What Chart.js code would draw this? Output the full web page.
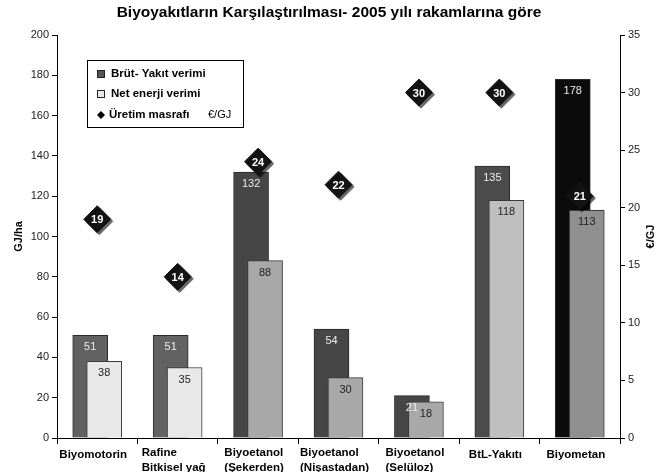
<!DOCTYPE html>
<html lang="tr">
<head>
    <meta charset="UTF-8">
    <title>Biyoyakıtların Karşılaştırılması</title>
    <script src="https://cdn.jsdelivr.net/npm/chart.js"></script>
    <style>
        html, body {
            margin: 0;
            padding: 0;
            background: #fff;
            overflow: hidden;
        }

        /* a bit taller than the window so the 2nd label line is cut like the original */
        #wrap {
            width: 658px;
            height: 482px;
        }
    </style>
</head>
<body>
    <div id="wrap"><canvas id="myChart"></canvas></div>

    <script>
        const categories = [
            ['Biyomotorin'],
            ['Rafine', 'Bitkisel yağ'],
            ['Biyoetanol', '(Şekerden)'],
            ['Biyoetanol', '(Nişastadan)'],
            ['Biyoetanol', '(Selüloz)'],
            ['BtL-Yakıtı'],
            ['Biyometan']
        ];
        const brutYakitVerimi = [51, 51, 132, 54, 21, 135, 178];   // GJ/ha
        const netEnerjiVerimi = [38, 35, 88, 30, 18, 118, 113];    // GJ/ha
        const uretimMasrafi = [19, 14, 24, 22, 30, 30, 21];        // €/GJ
        const gjTicks = [0, 20, 40, 60, 80, 100, 120, 140, 160, 180, 200];
        const euroTicks = [0, 5, 10, 15, 20, 25, 30, 35];

        const darkColors = ['#626262', '#626262', '#464646', '#464646', '#464646', '#4b4b4b', '#0b0b0b'];
        const lightColors = ['#e8e8e8', '#e8e8e8', '#a8a8a8', '#a8a8a8', '#a8a8a8', '#bfbfbf', '#8f8f8f'];

        const FONT = '"Liberation Sans", Arial, sans-serif';

        // bars overlap: move the first series left, the second right
        const shiftBars = {
            id: 'shiftBars',
            afterDatasetsUpdate(chart) {
                [[0, -7], [1, 7]].forEach(([idx, dx]) => {
                    chart.getDatasetMeta(idx).data.forEach(bar => { bar.x += dx; });
                });
            }
        };

        const diamondShadow = {
            id: 'diamondShadow',
            beforeDatasetDraw(chart, args) {
                if (args.index !== 2) return;
                const c = chart.ctx;
                c.save();
                c.shadowColor = 'rgba(0,0,0,0.6)';
                c.shadowOffsetX = 2;
                c.shadowOffsetY = 2;
                c.shadowBlur = 1;
            },
            afterDatasetDraw(chart, args) {
                if (args.index === 2) chart.ctx.restore();
            }
        };

        const valueLabels = {
            id: 'valueLabels',
            afterDatasetsDraw(chart) {
                const c = chart.ctx;
                const ds = chart.data.datasets;
                c.save();
                c.textAlign = 'center';
                c.textBaseline = 'middle';
                c.font = '11px ' + FONT;
                chart.getDatasetMeta(0).data.forEach((bar, i) => {
                    c.fillStyle = '#ececec';
                    c.fillText(ds[0].data[i], bar.x, bar.y + 12);
                });
                chart.getDatasetMeta(1).data.forEach((bar, i) => {
                    c.fillStyle = '#222';
                    c.fillText(ds[1].data[i], bar.x, bar.y + 12);
                });
                c.font = 'bold 11px ' + FONT;
                c.fillStyle = '#fff';
                chart.getDatasetMeta(2).data.forEach((pt, i) => {
                    c.fillText(ds[2].data[i], pt.x, pt.y + 1);
                });
                c.restore();
            }
        };

        // category names: lines left aligned, block roughly centred under the group
        const xLabels = {
            id: 'xLabels',
            afterDraw(chart) {
                const c = chart.ctx;
                const xs = chart.scales.x;
                c.save();
                c.font = 'bold 11.5px ' + FONT;
                c.fillStyle = '#000';
                c.textAlign = 'left';
                c.textBaseline = 'middle';
                chart.data.labels.forEach((lines, i) => {
                    const w = Math.max(...lines.map(t => c.measureText(t).width));
                    const x0 = xs.getPixelForValue(i) - w / 2 - 4;
                    const y0 = lines.length > 1 ? 453 : 455;
                    lines.forEach((t, k) => c.fillText(t, x0, y0 + k * 15));
                });
                c.restore();
            }
        };

        // legend box inside the plot + axis titles (right one reads bottom-up)
        const extras = {
            id: 'extras',
            afterDraw(chart) {
                const c = chart.ctx;
                const area = chart.chartArea;
                const midY = (area.top + area.bottom) / 2;
                c.save();

                c.font = 'bold 11px ' + FONT;
                c.fillStyle = '#000';
                c.textAlign = 'center';
                c.textBaseline = 'middle';
                [[19, 'GJ/ha'], [651, '€/GJ']].forEach(([x, txt]) => {
                    c.save();
                    c.translate(x, midY);
                    c.rotate(-Math.PI / 2);
                    c.fillText(txt, 0, 0);
                    c.restore();
                });

                // legend
                c.fillStyle = '#fff';
                c.fillRect(87, 60, 156, 67);
                c.strokeStyle = '#000';
                c.lineWidth = 1;
                c.strokeRect(87.5, 60.5, 156, 67);

                c.textAlign = 'left';
                c.font = 'bold 11.5px ' + FONT;
                const ds = chart.data.datasets;
                [[74, '#555555'], [94, '#e8e8e8']].forEach(([y, col], i) => {
                    c.fillStyle = col;
                    c.fillRect(97.5, y - 3.5, 7, 7);
                    c.strokeStyle = '#222';
                    c.strokeRect(97.5, y - 3.5, 7, 7);
                    c.fillStyle = '#000';
                    c.fillText(ds[i].label, 111, y);
                });
                c.fillStyle = '#000';
                c.beginPath();
                c.moveTo(101, 111);
                c.lineTo(105, 115);
                c.lineTo(101, 119);
                c.lineTo(97, 115);
                c.closePath();
                c.fill();
                c.fillText(ds[2].label, 109, 115);
                c.font = '11px ' + FONT;
                c.fillText('€/GJ', 208, 115);

                c.restore();
            }
        };

        const ctx = document.getElementById('myChart').getContext('2d');

        new Chart(ctx, {
            data: {
                labels: categories,
                datasets: [
                    {
                        type: 'bar',
                        label: 'Brüt- Yakıt verimi',
                        data: brutYakitVerimi,
                        backgroundColor: darkColors,
                        borderColor: '#2a2a2a',
                        borderWidth: 1,
                        barThickness: 35,
                        grouped: false,
                        yAxisID: 'y',
                        order: 2
                    },
                    {
                        type: 'bar',
                        label: 'Net enerji verimi',
                        data: netEnerjiVerimi,
                        backgroundColor: lightColors,
                        borderColor: '#3a3a3a',
                        borderWidth: 1,
                        barThickness: 35,
                        grouped: false,
                        yAxisID: 'y',
                        order: 1
                    },
                    {
                        type: 'line',
                        label: 'Üretim masrafı',
                        data: uretimMasrafi,
                        showLine: false,
                        pointStyle: 'rectRot',
                        pointRadius: 13.5,
                        pointBackgroundColor: '#141414',
                        pointBorderColor: '#141414',
                        pointBorderWidth: 1,
                        yAxisID: 'y1',
                        clip: false,
                        order: 0
                    }
                ]
            },
            options: {
                responsive: true,
                maintainAspectRatio: false,
                animation: false,
                events: [],
                layout: { padding: 0 },
                plugins: {
                    legend: { display: false },
                    tooltip: { enabled: false },
                    title: {
                        display: true,
                        text: 'Biyoyakıtların Karşılaştırılması- 2005 yılı rakamlarına göre',
                        color: '#000',
                        font: { family: FONT, size: 15.5, weight: 'bold' },
                        padding: { top: 3, bottom: 13.4 }
                    }
                },
                scales: {
                    x: {
                        offset: true,
                        grid: { offset: true, drawOnChartArea: false, tickLength: 6, color: '#000' },
                        border: { color: '#000' },
                        ticks: { display: false },
                        afterFit: s => { s.height = 44; }
                    },
                    y: {
                        position: 'left',
                        min: 0,
                        max: 200,
                        afterBuildTicks: s => { s.ticks = gjTicks.map(v => ({ value: v })); },
                        grid: { drawOnChartArea: false, tickLength: 5, color: '#000' },
                        border: { color: '#000' },
                        ticks: { color: '#222', font: { family: FONT, size: 11 }, padding: 3 },
                        afterFit: s => { s.width = 57; }
                    },
                    y1: {
                        position: 'right',
                        min: 0,
                        max: 35,
                        afterBuildTicks: s => { s.ticks = euroTicks.map(v => ({ value: v })); },
                        grid: { drawOnChartArea: false, tickLength: 5, color: '#000' },
                        border: { color: '#000' },
                        ticks: { color: '#222', font: { family: FONT, size: 11 }, padding: 3 },
                        afterFit: s => { s.width = 38; }
                    }
                }
            },
            plugins: [shiftBars, diamondShadow, valueLabels, xLabels, extras]
        });
    </script>
</body>
</html>
